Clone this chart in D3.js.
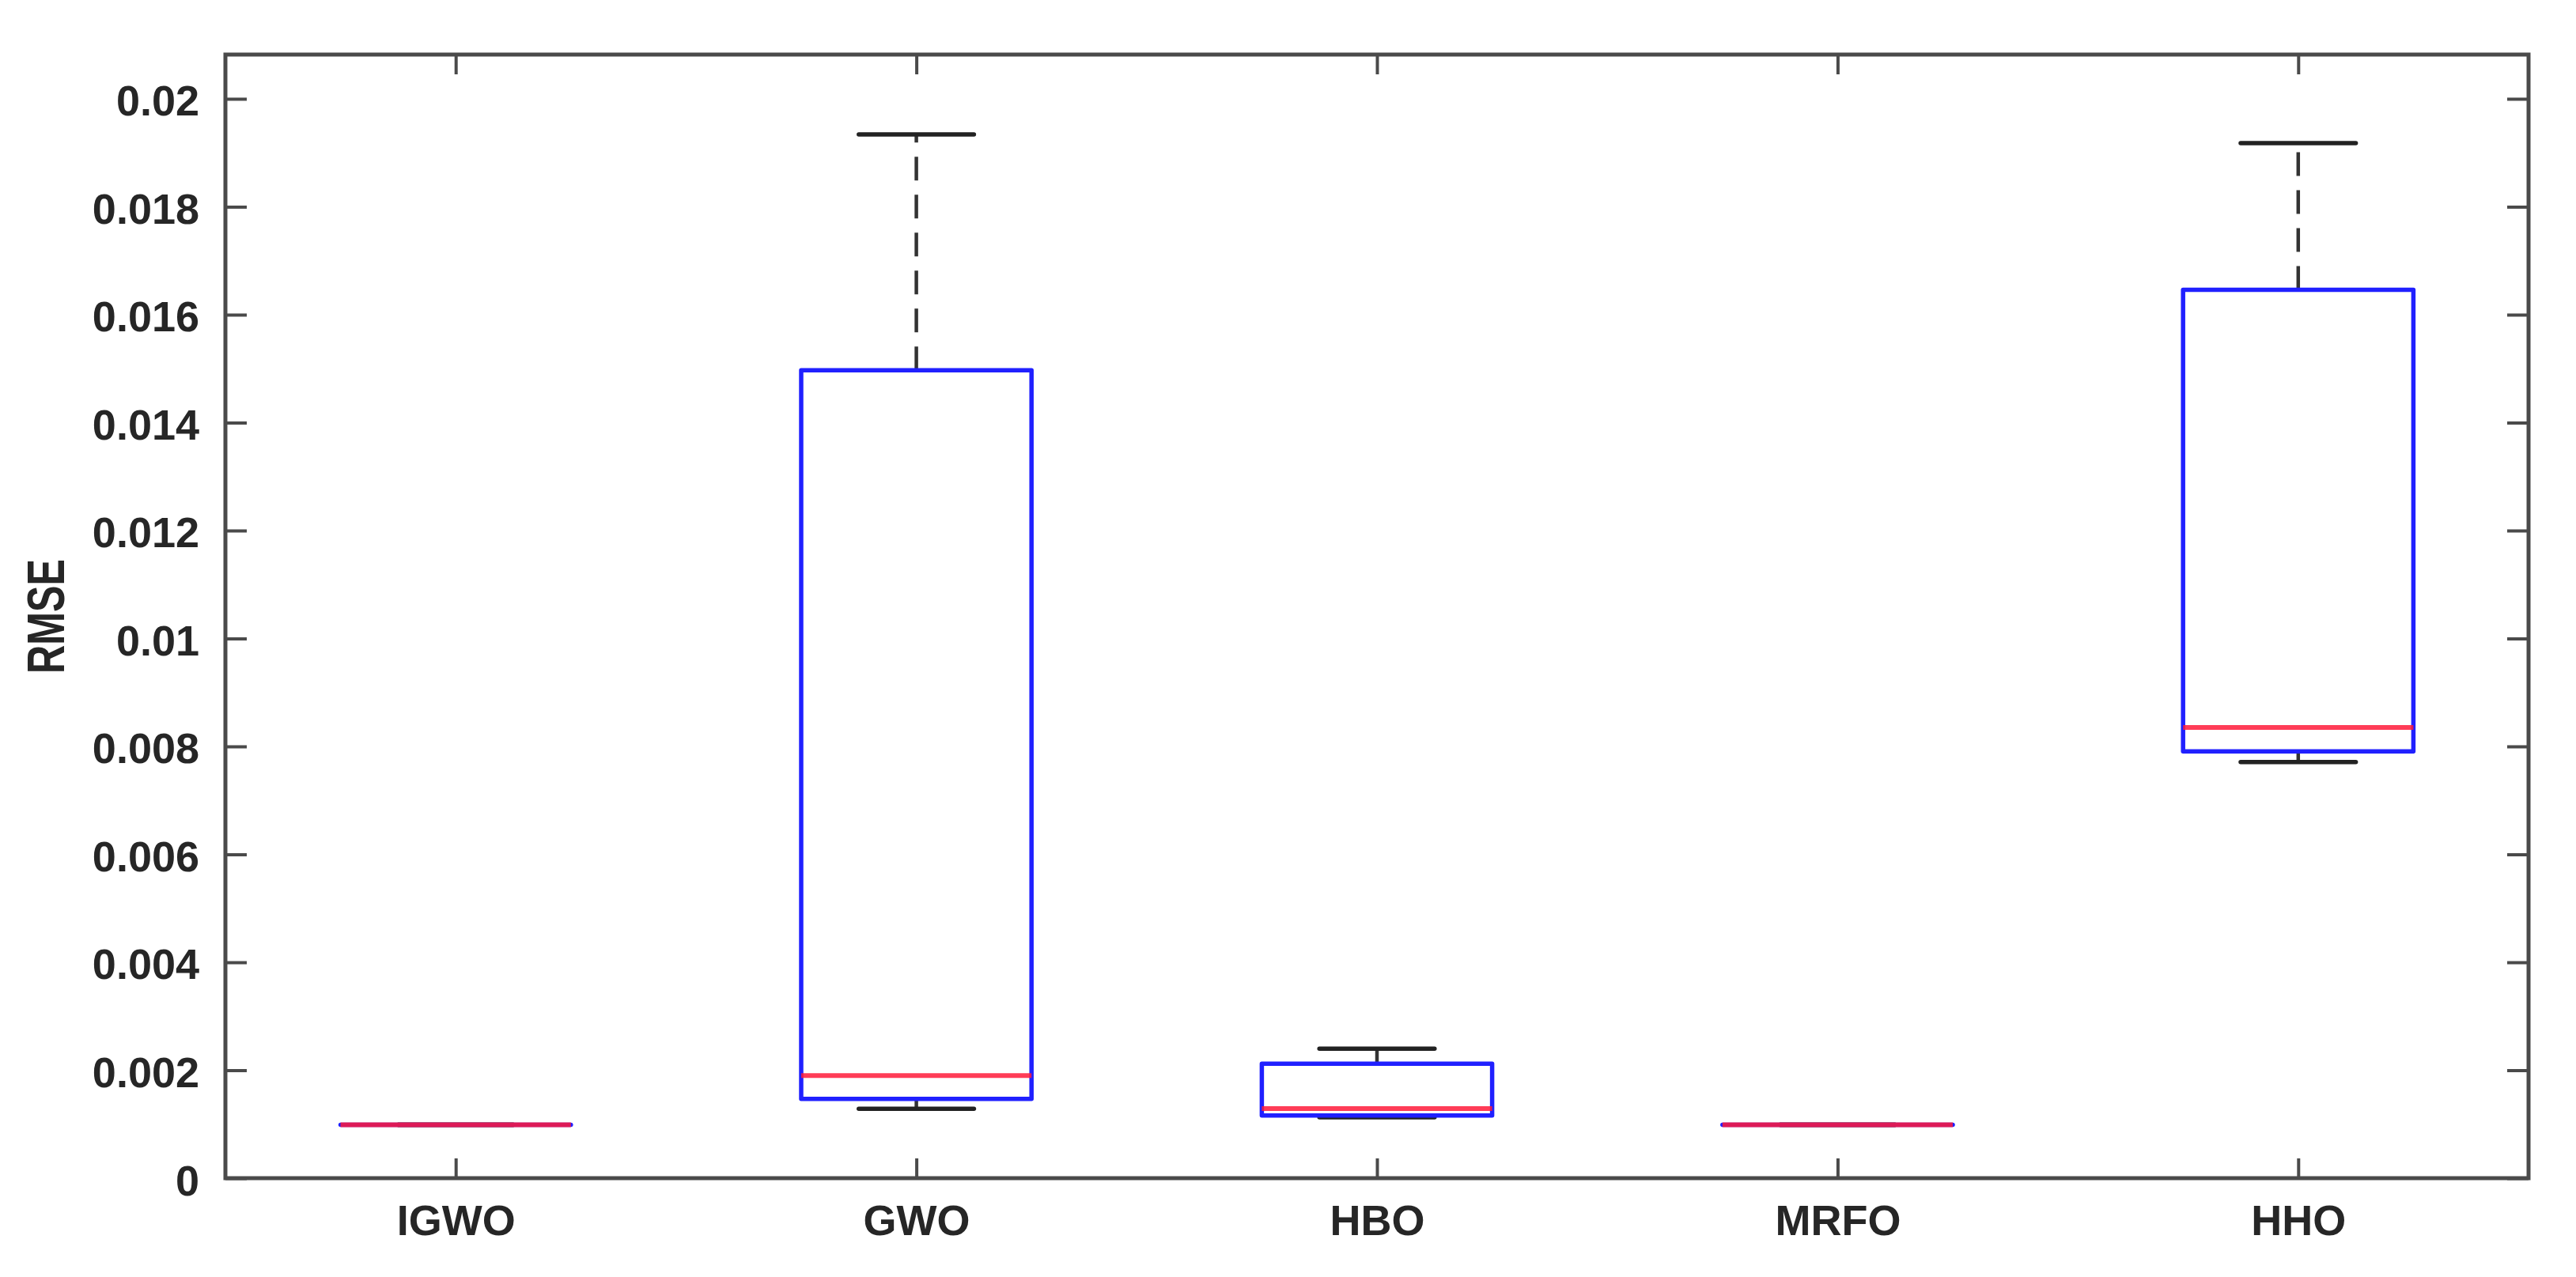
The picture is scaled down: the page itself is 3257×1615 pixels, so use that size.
<!DOCTYPE html>
<html>
<head>
<meta charset="utf-8">
<script src="https://cdn.jsdelivr.net/npm/d3@7"></script>
<style>
  html, body { margin: 0; padding: 0; background: #fff; }
  svg { display: block; }
  text { font-family: "Liberation Sans", Arial, Helvetica, sans-serif; font-weight: bold; fill: #262626; }
</style>
</head>
<body>
<script>
// ---- data ----
const categories = ["IGWO", "GWO", "HBO", "MRFO", "HHO"];
const whiskerLow  = [0.00099, 0.001285, 0.00113, 0.00099, 0.00771];
const quartile1   = [0.00099, 0.00147,  0.00116, 0.00099, 0.00791];
const medians     = [0.00099, 0.00190,  0.00129, 0.00099, 0.00835];
const quartile3   = [0.00099, 0.01497,  0.00212, 0.00099, 0.01646];
const whiskerHigh = [0.00099, 0.01934,  0.00240, 0.00099, 0.01918];
const yTicks = [0, 0.002, 0.004, 0.006, 0.008, 0.01, 0.012, 0.014, 0.016, 0.018, 0.02];
const yLabel = "RMSE";

// ---- layout ----
const W = 3257, H = 1615;
const L = 285, R = 3197, T = 69, B = 1490;
const axisColor = "#4a4a4a";

const svg = d3.select("body").append("svg").attr("width", W).attr("height", H);
svg.append("rect").attr("width", W).attr("height", H).attr("fill", "#fff");

const x = d3.scalePoint().domain(categories).range([L, R]).padding(0.5);
const y = d3.scaleLinear().domain([0, 0.02082]).range([B, T]);
const step = x.step();
const boxW = step * 0.5;
const capW = boxW * 0.5;

const data = categories.map((c, i) => ({
  c, lo: whiskerLow[i], q1: quartile1[i], med: medians[i], q3: quartile3[i], hi: whiskerHigh[i]
}));

// ---- axes (frame with inward ticks) ----
const fmt = v => String(+v.toFixed(4));
const tickLen = 27;

const yAxisL = svg.append("g").attr("transform", `translate(${L},0)`)
  .call(d3.axisLeft(y).tickValues(yTicks).tickFormat(fmt).tickSizeInner(-tickLen).tickSizeOuter(0).tickPadding(33));
const yAxisR = svg.append("g").attr("transform", `translate(${R},0)`)
  .call(d3.axisRight(y).tickValues(yTicks).tickFormat("").tickSizeInner(-tickLen).tickSizeOuter(0));
const xAxisB = svg.append("g").attr("transform", `translate(0,${B})`)
  .call(d3.axisBottom(x).tickSizeInner(-tickLen + 2).tickSizeOuter(0).tickPadding(45));
const xAxisT = svg.append("g").attr("transform", `translate(0,${T})`)
  .call(d3.axisTop(x).tickFormat("").tickSizeInner(-tickLen + 2).tickSizeOuter(0));

[yAxisL, yAxisR, xAxisB, xAxisT].forEach(g => {
  g.select(".domain").remove();
  g.selectAll(".tick line").attr("stroke", axisColor).attr("stroke-width", 4);
});
yAxisL.selectAll(".tick text")
  .attr("font-size", 54).attr("fill", "#262626")
  .attr("font-family", null)
  .attr("dy", null).attr("dominant-baseline", "alphabetic")
  .attr("y", 21);
xAxisB.selectAll(".tick text")
  .attr("font-size", 54).attr("fill", "#262626")
  .attr("font-family", null)
  .attr("dy", null).attr("y", 72);

svg.append("rect")
  .attr("x", L).attr("y", T).attr("width", R - L).attr("height", B - T)
  .attr("fill", "none").attr("stroke", axisColor).attr("stroke-width", 5);

// y label
svg.append("text")
  .attr("transform", `translate(${81},${(T + B) / 2}) rotate(-90)`)
  .attr("text-anchor", "middle")
  .attr("font-size", 66)
  .attr("textLength", 145).attr("lengthAdjust", "spacingAndGlyphs")
  .text(yLabel);

// ---- boxes ----
const g = svg.append("g");

// whiskers (dashed)
g.selectAll(".wh-hi").data(data).join("line")
  .attr("x1", d => x(d.c)).attr("x2", d => x(d.c))
  .attr("y1", d => y(d.q3)).attr("y2", d => y(d.hi))
  .attr("stroke", "#333").attr("stroke-width", 4.5).attr("stroke-dasharray", "30 18");
g.selectAll(".wh-lo").data(data).join("line")
  .attr("x1", d => x(d.c)).attr("x2", d => x(d.c))
  .attr("y1", d => y(d.q1)).attr("y2", d => y(d.lo))
  .attr("stroke", "#333").attr("stroke-width", 4.5).attr("stroke-dasharray", "30 18");

// caps
["hi", "lo"].forEach(k => {
  g.selectAll(".cap-" + k).data(data).join("line")
    .attr("x1", d => x(d.c) - capW / 2).attr("x2", d => x(d.c) + capW / 2)
    .attr("y1", d => y(d[k])).attr("y2", d => y(d[k]))
    .attr("stroke", "#222").attr("stroke-width", 5.5).attr("stroke-linecap", "round");
});

// box
g.selectAll(".box").data(data).join("rect")
  .attr("x", d => x(d.c) - boxW / 2).attr("width", boxW)
  .attr("y", d => y(d.q3)).attr("height", d => Math.max(0.01, y(d.q1) - y(d.q3)))
  .attr("fill", "none").attr("stroke", "#2020ff").attr("stroke-width", 5.5)
  .attr("stroke-linejoin", "round");

// median
g.selectAll(".med").data(data).join("line")
  .attr("x1", d => x(d.c) - boxW / 2).attr("x2", d => x(d.c) + boxW / 2)
  .attr("y1", d => y(d.med)).attr("y2", d => y(d.med))
  .attr("stroke", "#ff1a3a").attr("stroke-opacity", 0.85).attr("stroke-width", 6);
</script>
</body>
</html>
